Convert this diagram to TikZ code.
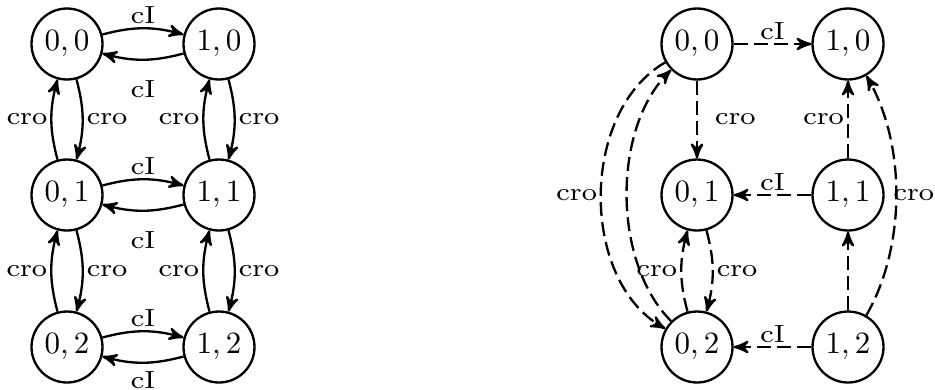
\documentclass[tikz,border=0pt]{standalone}
\usetikzlibrary{arrows}
\newcommand{\lbl}[1]{\scalebox{1.15}[1]{\footnotesize #1}}
\begin{document}
\begin{tikzpicture}[x=0.32258pt,y=0.32258pt,line width=0.75pt,>=stealth',
  st/.style={circle,draw,minimum size=22.9pt,inner sep=0pt},
  lab/.style={inner sep=1pt},
  dsh/.style={dash pattern=on 4.5pt off 2pt},
  bl/.style={bend left=15}]
\useasboundingbox (0,0) rectangle (935,389);
% left graph
\node[st] (a00) at (67,345) {$0,0$};
\node[st] (a10) at (219,345) {$1,0$};
\node[st] (a01) at (67,194) {$0,1$};
\node[st] (a11) at (219,194) {$1,1$};
\node[st] (a02) at (67,42) {$0,2$};
\node[st] (a12) at (219,42) {$1,2$};
\draw[->] (a00) to[bl] node[lab,above] {\lbl{cI}} (a10);
\draw[->] (a10) to[bl] node[lab,below,yshift=-5.3pt] {\lbl{cI}} (a00);
\draw[->] (a01) to[bl] node[lab,above] {\lbl{cI}} (a11);
\draw[->] (a11) to[bl] node[lab,below,yshift=-5.5pt] {\lbl{cI}} (a01);
\draw[->] (a02) to[bl] node[lab,above] {\lbl{cI}} (a12);
\draw[->] (a12) to[bl] node[lab,below,yshift=-1.4pt] {\lbl{cI}} (a02);
\draw[->] (a00) to[bl] node[lab,right] {\lbl{cro}} (a01);
\draw[->] (a01) to[bl] node[lab,left] {\lbl{cro}} (a00);
\draw[->] (a10) to[bl] node[lab,right] {\lbl{cro}} (a11);
\draw[->] (a11) to[bl] node[lab,left] {\lbl{cro}} (a10);
\draw[->] (a01) to[bl] node[lab,right] {\lbl{cro}} (a02);
\draw[->] (a02) to[bl] node[lab,left] {\lbl{cro}} (a01);
\draw[->] (a11) to[bl] node[lab,right] {\lbl{cro}} (a12);
\draw[->] (a12) to[bl] node[lab,left] {\lbl{cro}} (a11);
% right graph
\node[st] (b00) at (697,345) {$0,0$};
\node[st] (b10) at (848,345) {$1,0$};
\node[st] (b01) at (697,194) {$0,1$};
\node[st] (b11) at (848,194) {$1,1$};
\node[st] (b02) at (697,42) {$0,2$};
\node[st] (b12) at (848,42) {$1,2$};
\draw[->,dsh] (b00) -- node[lab,above] {\lbl{cI}} (b10);
\draw[->,dsh] (b00) -- node[lab,right,xshift=4.5pt] {\lbl{cro}} (b01);
\draw[->,dsh] (b11) -- node[lab,above] {\lbl{cI}} (b01);
\draw[->,dsh] (b11) -- node[lab,left] {\lbl{cro}} (b10);
\draw[->,dsh] (b12) -- node[lab,above] {\lbl{cI}} (b02);
\draw[->,dsh] (b12) -- (b11);
\draw[->,dsh] (b01) to[bl] node[lab,right] {\lbl{cro}} (b02);
\draw[->,dsh] (b02) to[bl] node[lab,left] {\lbl{cro}} (b01);
\draw[->,dsh] (b00) to[out=210,in=150,looseness=0.95] node[lab,left] {\lbl{cro}} (b02);
\draw[->,dsh] (b02) to[out=135,in=225,looseness=0.85] (b00);
\draw[->,dsh] (b12) to[out=60,in=-60,looseness=0.85] node[right,inner sep=0pt,xshift=-1.2pt] {\lbl{cro}} (b10);
\end{tikzpicture}
\end{document}
